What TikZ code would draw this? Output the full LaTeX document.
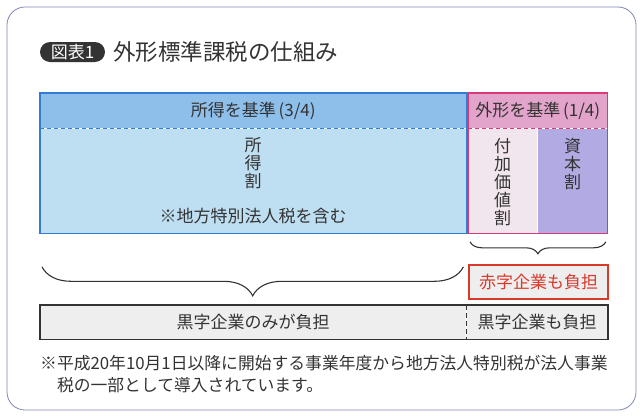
\documentclass[tikz,border=0pt]{standalone}
\usepackage{fontspec}
\setmainfont{Noto Sans CJK JP}
\usetikzlibrary{positioning,decorations.pathreplacing}

\definecolor{frameblue}{HTML}{7F86B8}
\definecolor{hdrblue}{HTML}{8EBFEA}
\definecolor{bodyblue}{HTML}{BEDEF1}
\definecolor{lineblue}{HTML}{2F7ED3}
\definecolor{hdrpink}{HTML}{E3A4CB}
\definecolor{linepink}{HTML}{D83A78}
\definecolor{palepink}{HTML}{F2E6EE}
\definecolor{lavender}{HTML}{B2AAE2}
\definecolor{inkgray}{HTML}{333333}
\definecolor{alertred}{HTML}{D8392B}
\definecolor{bargray}{HTML}{EEEEEE}

\begin{document}
\begin{tikzpicture}[x=1pt, y=-1pt,
  every node/.style={text=inkgray, font=\fontsize{17}{18}\selectfont},
  hdr/.style={inner sep=0pt, minimum height=35pt, anchor=north west},
  cell/.style={inner sep=0pt, minimum height=105pt, anchor=north west},
  vtext/.style={align=center, inner sep=0pt},
  bar/.style={fill=bargray, inner sep=0pt, minimum height=34pt, anchor=north west},
  brace/.style={decorate, decoration={brace, mirror, amplitude=#1}, draw=inkgray, line width=1.1pt}
]
\useasboundingbox (0,0) rectangle (640,418);
\draw[frameblue, line width=0.8pt, rounded corners=18pt] (7,7) rectangle (636,410);

% title
\node[fill=inkgray, text=white, rounded corners=10pt, minimum width=65pt, minimum height=20pt,
  inner sep=0pt, font=\fontsize{17}{17}\selectfont] (badge) at (72.5,52) {図表1};
\node[right=8pt of badge, inner sep=0pt, font=\fontsize{22.5}{24}\selectfont] (title) {外形標準課税の仕組み};

% income based part
\node[hdr, fill=hdrblue, minimum width=426pt] (incHdr) at (40,93) {所得を基準\,(3/4)};
\node[cell, fill=bodyblue, minimum width=426pt, below=0pt of incHdr, align=center] (incBody)
  {所\\得\\割\\[17pt]※地方特別法人税を含む};
\draw[lineblue, line width=1.2pt] (incHdr.north west) rectangle (incBody.south east);
\draw[lineblue, line width=1.2pt, dash pattern=on 4pt off 3pt] (incHdr.south west) -- (incHdr.south east);

% size based part
\node[hdr, fill=hdrpink, minimum width=139pt] (extHdr) at (468,93) {外形を基準\,(1/4)};
\node[cell, fill=palepink, minimum width=69pt] (addVal) at (extHdr.south west) {};
\node[cell, fill=lavender, minimum width=70pt, right=0pt of addVal] (capital) {};
\node[vtext, below=10pt of addVal.north] (addValTxt) {付\\加\\価\\値\\割};
\node[vtext, below=10pt of capital.north] (capitalTxt) {資\\本\\割};
\draw[linepink, line width=1.2pt] (extHdr.north west) rectangle (capital.south east);
\draw[linepink, line width=1.2pt, dash pattern=on 4pt off 3pt] (extHdr.south west) -- (extHdr.south east);

% braces
\draw[brace=12pt] ([shift={(2,8)}]addVal.south west) -- ([shift={(-2,8)}]capital.south east);
\draw[brace=29pt] ([shift={(2,33)}]incBody.south west) -- ([shift={(-3,33)}]incBody.south east);

\node[draw=alertred, line width=2pt, fill=bargray, text=alertred, minimum width=139pt, minimum height=34pt,
  inner sep=0pt, below=30pt of addVal.south west, anchor=north west] (deficit) {赤字企業も負担};

% who pays
\node[bar, minimum width=426pt] (blackOnly) at (40,305) {黒字企業のみが負担};
\node[bar, minimum width=141pt, right=0pt of blackOnly] (blackToo) {黒字企業も負担};
\draw[inkgray, line width=1.8pt] (blackOnly.north west) rectangle (blackToo.south east);
\draw[inkgray, line width=1.2pt, dash pattern=on 5pt off 3pt] (blackOnly.north east) -- (blackOnly.south east);

\node[anchor=north west, inner sep=0pt, font=\fontsize{16.8}{23}\selectfont] (note) at (40,355)
  {※平成20年10月1日以降に開始する事業年度から地方法人特別税が法人事業};
\node[below right=6pt and 16.8pt of note.south west, anchor=north west, inner sep=0pt,
  font=\fontsize{16.8}{23}\selectfont] (noteCont) {税の一部として導入されています。};
\end{tikzpicture}
\end{document}
